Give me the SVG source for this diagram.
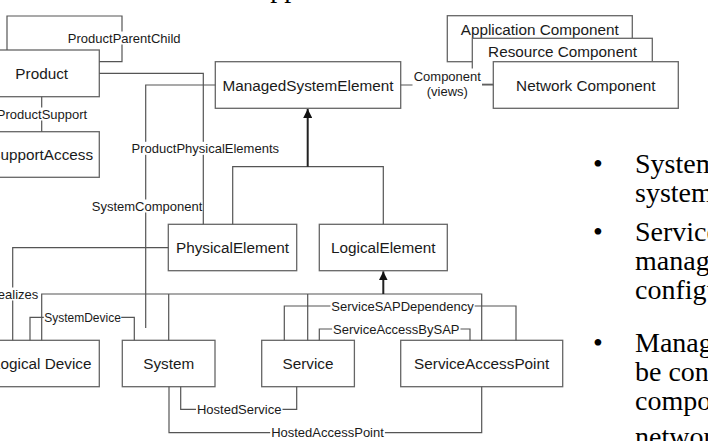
<svg xmlns="http://www.w3.org/2000/svg" width="708" height="441" viewBox="0 0 708 441">
  <style>
    .box { fill: #ffffff; stroke: #666666; stroke-width: 1.3; }
    .lbl { font-family: "Liberation Sans", Arial, sans-serif; font-size: 15.3px; fill: #1a1a1a; text-anchor: middle; }
    .conn { fill: none; stroke: #555555; stroke-width: 1.2; }
    .gen { fill: none; stroke: #222222; stroke-width: 2; }
    .cl { font-family: "Liberation Sans", Arial, sans-serif; font-size: 13px; fill: #1a1a1a; text-anchor: middle; }
    .bg { fill: #ffffff; }
    .bul { font-family: "Liberation Serif", "Times New Roman", serif; font-size: 28px; fill: #000000; }
  </style>
  <defs>
    <marker id="tri" viewBox="0 0 10 10" refX="10" refY="5" markerWidth="4.5" markerHeight="4.5" orient="auto" markerUnits="strokeWidth">
      <path d="M0,0 L10,5 L0,10 Z" fill="#111111"/>
    </marker>
  </defs>

  <rect width="708" height="441" fill="#ffffff"/>

  <!-- slide heading, mostly above the visible area -->
  <text class="bul" x="250" y="-3">Applications</text>

  <!-- nodes -->
  <g id="product"><rect class="box" x="-16" y="50" width="115.3" height="46.7"/><text class="lbl" x="41.7" y="78.8">Product</text></g>
  <g id="support-access"><rect class="box" x="-16" y="131.7" width="115.3" height="45.6"/><text class="lbl" x="41.7" y="160">SupportAccess</text></g>
  <g id="managed-system-element"><rect class="box" x="215.3" y="61.7" width="185.4" height="46.6"/><text class="lbl" x="308" y="90.5">ManagedSystemElement</text></g>
  <g id="application-component"><rect class="box" x="447.3" y="15.7" width="185" height="46"/><text class="lbl" x="539.8" y="34.5">Application Component</text></g>
  <g id="resource-component"><rect class="box" x="472.3" y="38.3" width="180" height="46"/><text class="lbl" x="562.5" y="57.3">Resource Component</text></g>
  <g id="network-component"><rect class="box" x="493.3" y="61.7" width="185" height="46.6"/><text class="lbl" x="585.8" y="90.5">Network Component</text></g>
  <g id="physical-element"><rect class="box" x="168.3" y="224.3" width="128.4" height="46.4"/><text class="lbl" x="232.5" y="253">PhysicalElement</text></g>
  <g id="logical-element"><rect class="box" x="319.3" y="224.3" width="128" height="46.4"/><text class="lbl" x="383.3" y="253">LogicalElement</text></g>
  <g id="logical-device"><rect class="box" x="-16" y="340.3" width="115.3" height="46.4"/><text class="lbl" x="41.7" y="369">Logical Device</text></g>
  <g id="system"><rect class="box" x="122.3" y="340.3" width="92.7" height="46.4"/><text class="lbl" x="168.7" y="369">System</text></g>
  <g id="service"><rect class="box" x="261.7" y="340.3" width="92.7" height="46.4"/><text class="lbl" x="308" y="369">Service</text></g>
  <g id="service-access-point"><rect class="box" x="400.7" y="340.3" width="162" height="46.4"/><text class="lbl" x="481.7" y="369">ServiceAccessPoint</text></g>

  <!-- connectors -->
  <g id="connectors">
    <path class="conn" d="M7 50 V16 H122 V61.7 H99.3"/>
    <path class="conn" d="M41.7 96.7 V131.7"/>
    <path class="conn" d="M99.3 73.3 H203.3 V224.3"/>
    <path class="conn" d="M215.3 85 H145.7 V328"/>
    <path class="conn" d="M400.7 85 H493.3"/>
    <path class="conn" d="M232.7 224.3 V166.7 H383.3 V224.3"/>
    <path class="gen" d="M307.7 166.7 V109" marker-end="url(#tri)"/>
    <path class="conn" d="M168.3 247.7 H12.7 V340.3"/>
    <path class="conn" d="M41.7 340.3 V294 H481.7 V340.3 M168.7 294 V340.3 M307.7 294 V340.3"/>
    <path class="gen" d="M383.3 294 V271.4" marker-end="url(#tri)"/>
    <path class="conn" d="M30 340.3 V317.3 H134.3 V340.3"/>
    <path class="conn" d="M284.3 340.3 V306 H516 V340.3"/>
    <path class="conn" d="M319.3 340.3 V329 H470 V340.3"/>
    <path class="conn" d="M296.7 386.7 V409.3 H180.7 V386.7"/>
    <path class="conn" d="M481.7 386.7 V432.7 H169 V386.7"/>

    <!-- connector labels on white backing -->
    <rect class="bg" x="66.8" y="31.5" width="114.7" height="13"/>
    <text class="cl" x="124.2" y="42.6">ProductParentChild</text>
    <rect class="bg" x="-4.2" y="107.5" width="92.3" height="13"/>
    <text class="cl" x="42" y="118.6">ProductSupport</text>
    <rect class="bg" x="130.6" y="141.8" width="149.4" height="13"/>
    <text class="cl" x="205.3" y="152.9">ProductPhysicalElements</text>
    <rect class="bg" x="91.75" y="199.5" width="110.5" height="13"/>
    <text class="cl" x="147" y="210.6">SystemComponent</text>
    <rect class="bg" x="412.5" y="68.5" width="69.5" height="30.5"/>
    <text class="cl" x="447.3" y="81.4">Component</text>
    <text class="cl" x="447.3" y="96.4">(views)</text>
    <rect class="bg" x="-12.5" y="287.5" width="51.8" height="13"/>
    <text class="cl" x="13.4" y="298.6">Realizes</text>
    <rect class="bg" x="43.8" y="311.3" width="77.4" height="12"/>
    <text class="cl" x="82.5" y="321.5" style="font-size:12px">SystemDevice</text>
    <rect class="bg" x="330.4" y="299.5" width="144.3" height="13"/>
    <text class="cl" x="402.5" y="310.6">ServiceSAPDependency</text>
    <rect class="bg" x="332.1" y="322.5" width="128.4" height="13"/>
    <text class="cl" x="396.3" y="333.6">ServiceAccessBySAP</text>
    <rect class="bg" x="196" y="402.8" width="86.5" height="13"/>
    <text class="cl" x="239.2" y="413.9">HostedService</text>
    <rect class="bg" x="270.2" y="426.2" width="114.7" height="13"/>
    <text class="cl" x="327.5" y="437.3">HostedAccessPoint</text>
  </g>

  <!-- bullet list beside the model -->
  <g id="bullets">
    <text class="bul" x="593" y="172.5">•</text>
    <text class="bul" x="635" y="172.5">Systems</text>
    <text class="bul" x="635" y="202">system</text>
    <text class="bul" x="593" y="240.5">•</text>
    <text class="bul" x="635" y="240.5">Services</text>
    <text class="bul" x="635" y="270">management</text>
    <text class="bul" x="635" y="299">configuration</text>
    <text class="bul" x="593" y="352">•</text>
    <text class="bul" x="635" y="352">Managed</text>
    <text class="bul" x="635" y="381">be constructed</text>
    <text class="bul" x="635" y="410">components</text>
    <text class="bul" x="635" y="446">network</text>
  </g>
</svg>
